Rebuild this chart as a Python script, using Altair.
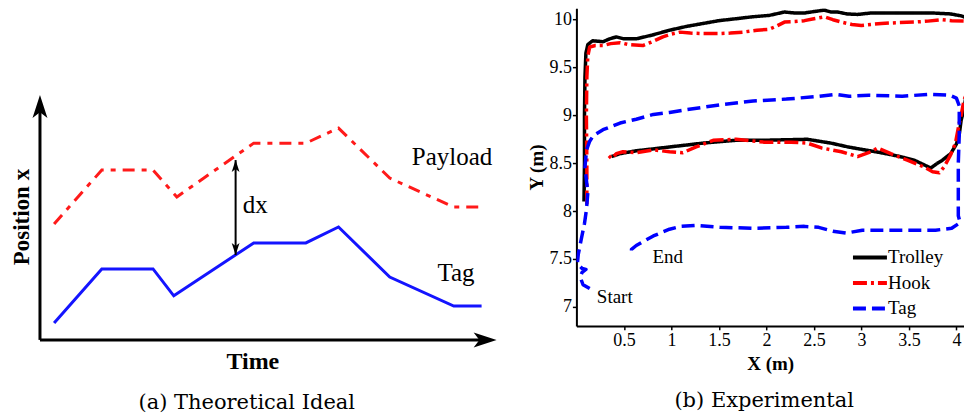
import altair as alt
import pandas as pd

# ---------------- Panel (a): theoretical ideal ----------------
a_tag_t = [0.32, 1.40, 2.56, 3.03, 4.84, 6.02, 6.76, 7.92, 9.37, 10.0]
a_tag_p = [0.80, 3.35, 3.35, 2.08, 4.58, 4.58, 5.33, 2.97, 1.60, 1.60]
a_pay_t = [0.32, 1.40, 2.56, 3.10, 4.84, 6.02, 6.76, 7.92, 9.37, 10.0]
a_pay_p = [5.47, 8.02, 8.02, 6.75, 9.29, 9.29, 10.0, 7.64, 6.27, 6.27]

# axis arrows (start -> end of shaft) and arrow tips
a_axis_t1 = [0.0, 0.0]
a_axis_p1 = [0.0, 0.0]
a_axis_t2 = [0.0, 10.11]
a_axis_p2 = [11.1, 0.0]
a_bigtip_t = [0.0, 10.34]
a_bigtip_p = [11.56, 0.0]
a_bigtip_ang = [0, 90]
# dx double arrow
a_dx_t = [4.43, 4.43]
a_dx_p = [8.49, 4.01]
a_dx_ang = [0, 180]

a_lbl_text = ["Payload", "Tag", "dx"]
a_lbl_t = [8.42, 9.0, 4.59]
a_lbl_p = [8.63, 3.16, 6.37]
a_bold_text = ["Time"]
a_bold_t = [4.82]
a_bold_p = [-1.04]
a_rot_text = ["Position x"]
a_rot_t = [-0.40]
a_rot_p = [5.8]

# ---------------- Panel (b): experimental ----------------
trolley_x = [0.08, 0.085, 0.085, 0.09, 0.10, 0.12, 0.17, 0.28, 0.35, 0.42, 0.50, 0.63, 0.80, 0.98,
             1.16, 1.33, 1.50, 1.68, 1.85, 2.03, 2.19, 2.30, 2.40, 2.50, 2.61, 2.68, 2.75, 2.85,
             2.96, 3.10, 3.21, 3.40, 3.56, 3.75, 3.94, 4.05, 4.11, 4.12, 4.12, 4.12, 4.12, 4.10,
             4.08, 4.05, 4.03, 4.00, 3.94, 3.85, 3.80, 3.73, 3.56, 3.45, 3.31, 3.15, 3.03, 2.86,
             2.68, 2.43, 2.20, 1.98, 1.68, 1.33, 1.16, 0.98, 0.81, 0.63, 0.46, 0.40, 0.37]
trolley_y = [8.10, 8.50, 9.00, 9.40, 9.65, 9.74, 9.78, 9.77, 9.80, 9.82, 9.80, 9.80, 9.84, 9.89,
             9.93, 9.96, 9.99, 10.01, 10.03, 10.045, 10.08, 10.07, 10.07, 10.085, 10.10, 10.08, 10.08, 10.06,
             10.055, 10.07, 10.07, 10.07, 10.07, 10.07, 10.06, 10.04, 10.02, 9.95, 9.85, 9.72, 9.50, 9.20,
             9.06, 8.95, 8.80, 8.70, 8.60, 8.53, 8.50, 8.45, 8.53, 8.56, 8.59, 8.62, 8.64, 8.67,
             8.71, 8.75, 8.745, 8.74, 8.74, 8.71, 8.69, 8.67, 8.65, 8.63, 8.60, 8.58, 8.57]

hook_x = [0.11, 0.11, 0.105, 0.11, 0.12, 0.14, 0.20, 0.28, 0.36, 0.46, 0.55, 0.70, 0.80, 0.91,
          1.00, 1.09, 1.20, 1.33, 1.51, 1.62, 1.75, 1.90, 2.03, 2.10, 2.19, 2.30, 2.40, 2.50,
          2.61, 2.70, 2.79, 2.90, 3.00, 3.10, 3.21, 3.40, 3.56, 3.70, 3.84, 3.95, 4.08, 4.12,
          4.12, 4.12, 4.12, 4.08, 4.05, 4.03, 3.99, 3.94, 3.87, 3.82, 3.75, 3.66, 3.49, 3.31,
          3.17, 3.10, 2.96, 2.79, 2.58, 2.43, 2.26, 1.98, 1.68, 1.44, 1.26, 1.12, 0.98, 0.81,
          0.63, 0.49, 0.42, 0.37, 0.34, 0.36]
hook_y = [8.07, 8.50, 9.00, 9.40, 9.62, 9.715, 9.73, 9.73, 9.75, 9.76, 9.74, 9.73, 9.77, 9.82,
          9.85, 9.87, 9.86, 9.855, 9.855, 9.86, 9.87, 9.89, 9.90, 9.93, 9.975, 9.98, 9.99, 10.01,
          10.03, 10.00, 9.975, 9.95, 9.94, 9.95, 9.96, 9.97, 9.975, 9.985, 10.00, 9.99, 9.985, 9.975,
          9.80, 9.45, 9.26, 9.16, 9.00, 8.92, 8.71, 8.59, 8.46, 8.40, 8.41, 8.46, 8.53, 8.60,
          8.66, 8.62, 8.57, 8.62, 8.66, 8.71, 8.72, 8.72, 8.75, 8.74, 8.67, 8.61, 8.62, 8.64,
          8.61, 8.62, 8.60, 8.55, 8.58, 8.60]

tag_x = [0.14, 0.07, 0.04, 0.06, 0.10, 0.06, 0.01, 0.02, 0.05, 0.085, 0.105, 0.12, 0.09, 0.107,
         0.14, 0.18, 0.28, 0.46, 0.63, 0.81, 0.98, 1.16, 1.51, 1.86, 2.21, 2.56, 2.73, 2.87,
         3.08, 3.43, 3.71, 3.93, 4.00, 4.03, 4.03, 4.02, 4.02, 4.02, 4.04, 3.95, 3.78, 3.50,
         3.26, 3.01, 2.84, 2.70, 2.55, 2.40, 2.21, 1.86, 1.51, 1.25, 1.10, 0.98, 0.81, 0.63,
         0.58, 0.58, 0.61]
tag_y = [7.19, 7.23, 7.31, 7.36, 7.39, 7.40, 7.45, 7.55, 7.70, 7.87, 8.01, 8.19, 8.46, 8.64,
         8.73, 8.79, 8.85, 8.92, 8.96, 9.01, 9.03, 9.06, 9.11, 9.15, 9.17, 9.20, 9.22, 9.20,
         9.21, 9.20, 9.22, 9.21, 9.18, 9.10, 8.80, 8.50, 8.20, 7.95, 7.88, 7.82, 7.80, 7.80,
         7.80, 7.80, 7.77, 7.79, 7.83, 7.84, 7.83, 7.82, 7.83, 7.85, 7.84, 7.81, 7.74, 7.64,
         7.60, 7.56, 7.57]

series_names = ["Trolley", "Hook", "Tag"]
series_colors = ["#000000", "#ff0000", "#0000ff"]
series_dash = [[1, 0], [14, 4, 3, 4], [13, 6]]

b_note_text = ["Start", "End"]
b_note_x = [0.215, 0.80]
b_note_y = [7.10, 7.52]

x_ticks = [0.5, 1, 1.5, 2, 2.5, 3, 3.5, 4]
y_ticks = [7, 7.5, 8, 8.5, 9, 9.5, 10]

SERIF = "Liberation Serif"

# ---------- build panel (a) ----------
ax = alt.Scale(domain=[-0.724, 10.36], nice=False, zero=False)
ay = alt.Scale(domain=[-1.79, 15.66], nice=False, zero=False)

df_tag_a = pd.DataFrame({"t": a_tag_t, "p": a_tag_p, "i": range(len(a_tag_t))})
df_pay_a = pd.DataFrame({"t": a_pay_t, "p": a_pay_p, "i": range(len(a_pay_t))})

a_tag_line = alt.Chart(df_tag_a).mark_line(color="#1414ff", strokeWidth=3).encode(
    x=alt.X("t:Q", scale=ax, axis=None), y=alt.Y("p:Q", scale=ay, axis=None), order="i:Q")
a_pay_line = alt.Chart(df_pay_a).mark_line(
    color="#ff1a1a", strokeWidth=3, strokeDash=[12, 7, 5, 7]).encode(
    x=alt.X("t:Q", scale=ax, axis=None), y=alt.Y("p:Q", scale=ay, axis=None), order="i:Q")

df_axes = pd.DataFrame({"t1": a_axis_t1, "p1": a_axis_p1, "t2": a_axis_t2, "p2": a_axis_p2})
a_axes = alt.Chart(df_axes).mark_rule(color="black", strokeWidth=3).encode(
    x=alt.X("t1:Q", scale=ax, axis=None), y=alt.Y("p1:Q", scale=ay, axis=None),
    x2="t2:Q", y2="p2:Q")

ARROW = "M0,0 L0.65,2 L0,1.5 L-0.65,2 Z"
df_big = pd.DataFrame({"t": a_bigtip_t, "p": a_bigtip_p, "ang": a_bigtip_ang})
a_bigtips = alt.Chart(df_big).mark_point(shape=ARROW, filled=True, size=529, color="black",
                                         opacity=1, strokeWidth=0).encode(
    x=alt.X("t:Q", scale=ax, axis=None), y=alt.Y("p:Q", scale=ay, axis=None),
    angle=alt.Angle("ang:Q", scale=None))

df_dx = pd.DataFrame({"t": a_dx_t, "p": a_dx_p, "ang": a_dx_ang})
a_dx_rule = alt.Chart(pd.DataFrame({"t": [a_dx_t[0]], "p1": [a_dx_p[0]], "p2": [a_dx_p[1]]})).mark_rule(
    color="black", strokeWidth=2).encode(
    x=alt.X("t:Q", scale=ax, axis=None), y=alt.Y("p1:Q", scale=ay, axis=None), y2="p2:Q")
a_dx_tips = alt.Chart(df_dx).mark_point(shape=ARROW, filled=True, size=144, color="black",
                                        opacity=1, strokeWidth=0).encode(
    x=alt.X("t:Q", scale=ax, axis=None), y=alt.Y("p:Q", scale=ay, axis=None),
    angle=alt.Angle("ang:Q", scale=None))

a_labels = alt.Chart(pd.DataFrame({"t": a_lbl_t, "p": a_lbl_p, "txt": a_lbl_text})).mark_text(
    font=SERIF, fontSize=25, align="left", baseline="middle", color="black").encode(
    x=alt.X("t:Q", scale=ax, axis=None), y=alt.Y("p:Q", scale=ay, axis=None), text="txt:N")
a_bold = alt.Chart(pd.DataFrame({"t": a_bold_t, "p": a_bold_p, "txt": a_bold_text})).mark_text(
    font=SERIF, fontSize=24, fontWeight="bold", align="center", baseline="middle", color="black").encode(
    x=alt.X("t:Q", scale=ax, axis=None), y=alt.Y("p:Q", scale=ay, axis=None), text="txt:N")
a_rot = alt.Chart(pd.DataFrame({"t": a_rot_t, "p": a_rot_p, "txt": a_rot_text})).mark_text(
    font=SERIF, fontSize=23, fontWeight="bold", align="center", baseline="middle", angle=270,
    color="black").encode(
    x=alt.X("t:Q", scale=ax, axis=None), y=alt.Y("p:Q", scale=ay, axis=None), text="txt:N")

panel_a = alt.layer(a_pay_line, a_tag_line, a_axes, a_bigtips, a_dx_rule, a_dx_tips,
                    a_labels, a_bold, a_rot).properties(
    width=490, height=370,
    title=alt.TitleParams(text="(a) Theoretical Ideal", orient="bottom", font="DejaVu Serif",
                          fontSize=21, fontWeight="normal", offset=14, dx=-6, color="black"))

# ---------- build panel (b) ----------
rows = []
for name, xs, ys in [("Trolley", trolley_x, trolley_y), ("Hook", hook_x, hook_y), ("Tag", tag_x, tag_y)]:
    for k, (xv, yv) in enumerate(zip(xs, ys)):
        rows.append({"series": name, "i": k, "x": xv, "y": yv})
df_b = pd.DataFrame(rows)

bx = alt.Scale(domain=[0, 4.08], nice=False, zero=False)
by = alt.Scale(domain=[6.8, 10.12], nice=False, zero=False)

b_lines = alt.Chart(df_b).mark_line(strokeWidth=3.5, clip=True, strokeJoin="round").encode(
    x=alt.X("x:Q", scale=bx, axis=alt.Axis(values=x_ticks, format="~g", title="X (m)",
                                            labelPadding=2, titlePadding=5)),
    y=alt.Y("y:Q", scale=by, axis=alt.Axis(values=y_ticks, format="~g", title="Y (m)",
                                            labelPadding=1, titlePadding=2)),
    color=alt.Color("series:N", title=None,
                    scale=alt.Scale(domain=series_names, range=series_colors),
                    legend=alt.Legend(orient="none", legendX=843, legendY=240,
                                      symbolType="M-0.95,0 L1.05,0",
                                      symbolSize=1156, symbolStrokeWidth=4, labelFont=SERIF,
                                      labelFontSize=19, labelColor="black", labelOffset=0,
                                      clipHeight=19, rowPadding=5.5, labelLimit=200)),
    strokeDash=alt.StrokeDash("series:N", title=None,
                              scale=alt.Scale(domain=series_names, range=series_dash)),
    order=alt.Order("i:Q"),
)

b_notes = alt.Chart(pd.DataFrame({"x": b_note_x, "y": b_note_y, "txt": b_note_text})).mark_text(
    font=SERIF, fontSize=19, align="left", baseline="middle", color="black").encode(
    x=alt.X("x:Q", scale=bx), y=alt.Y("y:Q", scale=by), text="txt:N")

panel_b = alt.layer(b_lines, b_notes).properties(
    width=388, height=318,
    title=alt.TitleParams(text="(b) Experimental", orient="bottom", font="DejaVu Serif",
                          fontSize=21, fontWeight="normal", offset=16, dx=-6, color="black"))

chart = alt.hconcat(panel_a, panel_b, spacing=79, bounds="flush").properties(
    padding=0
).configure_view(strokeWidth=0).configure_axis(
    grid=False, domainColor="black", domainWidth=2, tickColor="black", tickWidth=1.5,
    tickSize=4, labelFont=SERIF, labelFontSize=18, labelColor="black",
    titleFont=SERIF, titleFontSize=19, titleFontWeight="bold", titleColor="black"
)

chart.save("out.html", embed_options={"renderer": "svg", "actions": False})
